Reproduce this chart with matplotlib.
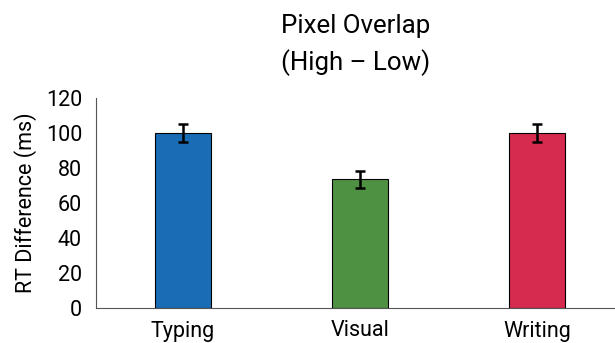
import matplotlib.pyplot as plt

plt.rcParams['font.family'] = ['Roboto', 'DejaVu Sans']
plt.rcParams['font.size'] = 15.5

conditions = ['Typing', 'Visual', 'Writing']
rt_diff = [100, 73.5, 100]
rt_err = [5.3, 5.0, 5.2]
colors = ['#1a6cb4', '#4f9142', '#d62a4f']

fig = plt.figure(figsize=(6.15, 3.43), dpi=100)
ax = fig.add_axes([96 / 615, 35 / 343, 1 - 96 / 615, 210 / 343])

x = range(len(conditions))
ax.bar(x, rt_diff, width=0.316, color=colors, edgecolor='black', linewidth=0.8,
       yerr=rt_err, error_kw=dict(ecolor='black', elinewidth=1.8, capsize=3.5, capthick=1.8))

ax.set_xlim(-0.49, 2.44)
ax.set_ylim(0, 120)
ax.set_yticks(range(0, 121, 20))
ax.set_xticks(list(x))
ax.set_xticklabels(conditions)
ax.tick_params(axis='x', length=0, pad=9)
ax.tick_params(axis='y', length=0, pad=10)
ax.spines['top'].set_visible(False)
ax.spines['right'].set_visible(False)
ax.spines['left'].set_color('#555555')
ax.spines['bottom'].set_color('#555555')
ax.set_ylabel('RT Difference (ms)', labelpad=6)
ax.set_title('Pixel Overlap\n(High \u2013 Low)', pad=20, linespacing=1.55)

plt.savefig('out.png', dpi=100)
